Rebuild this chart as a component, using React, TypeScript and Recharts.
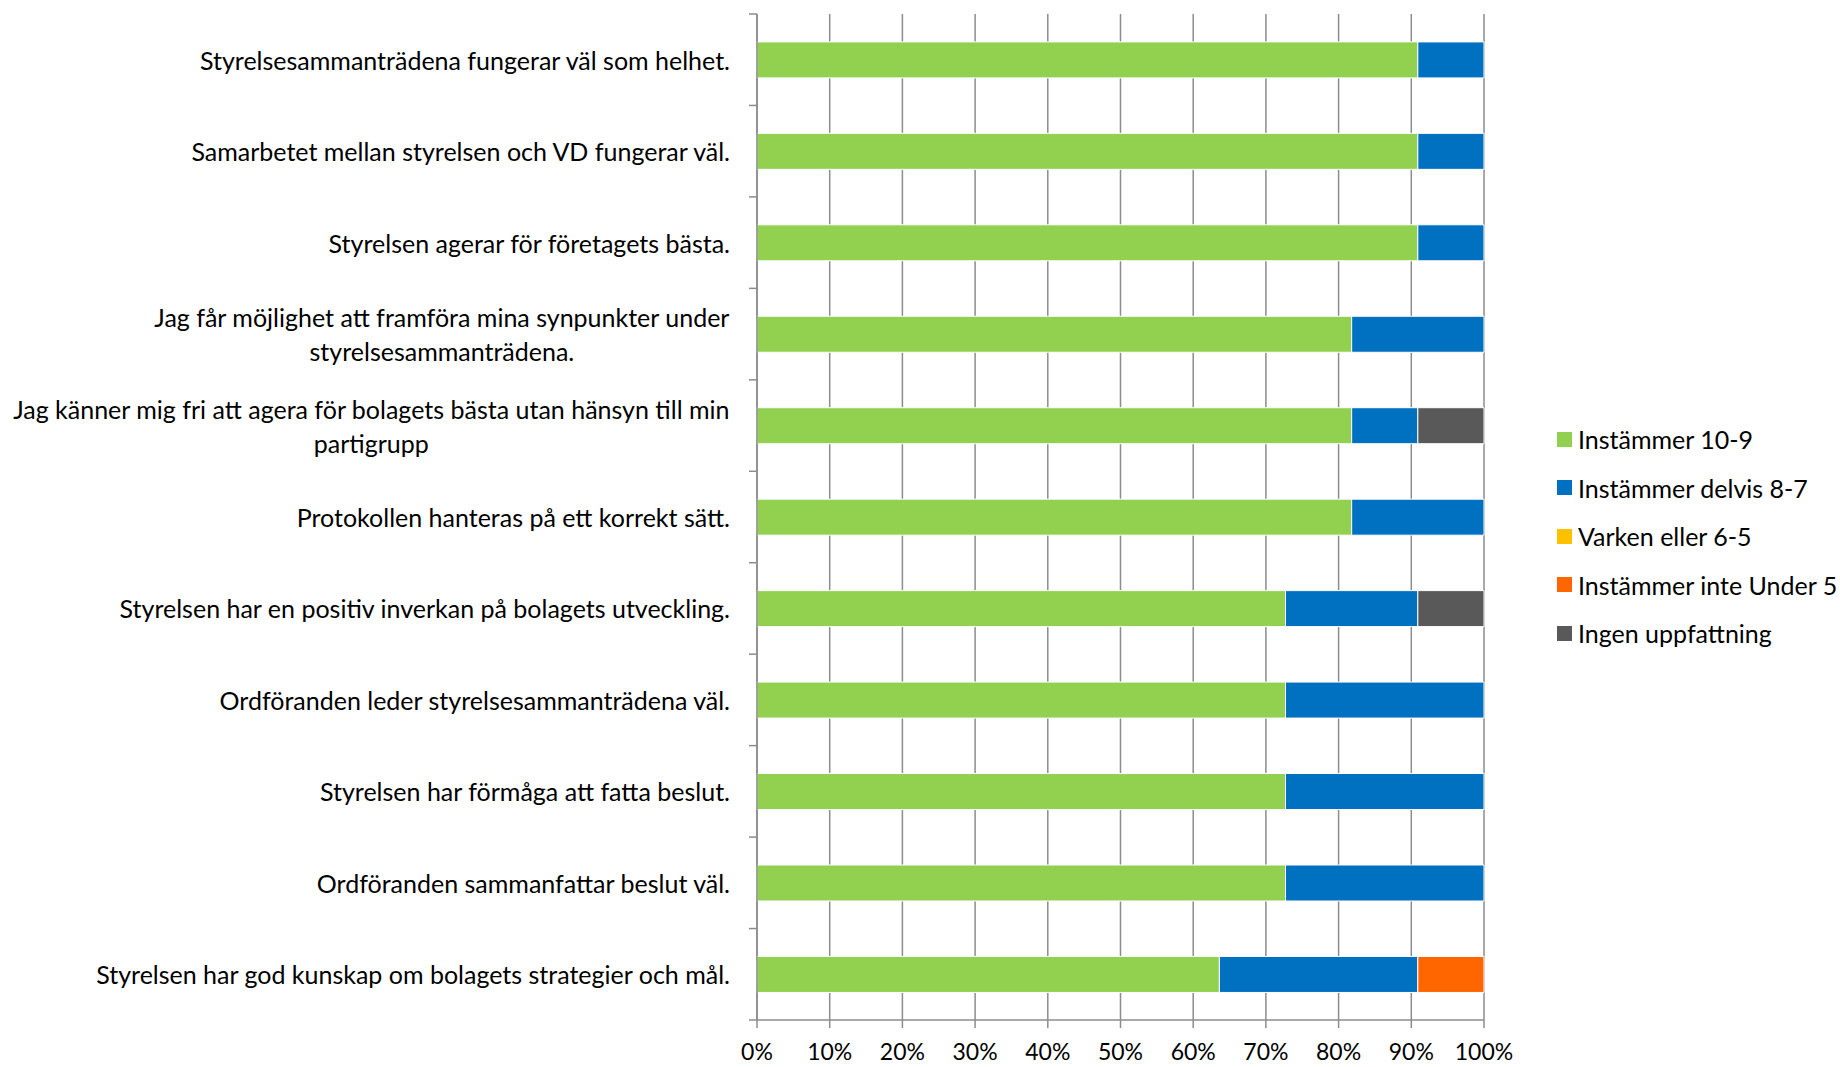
import { Bar, BarChart, CartesianGrid, XAxis, YAxis } from "recharts";

const categories = [
  "Styrelsesammanträdena fungerar väl som helhet.",
  "Samarbetet mellan styrelsen och VD fungerar väl.",
  "Styrelsen agerar för företagets bästa.",
  "Jag får möjlighet att framföra mina synpunkter under\nstyrelsesammanträdena.",
  "Jag känner mig fri att agera för bolagets bästa utan hänsyn till min\npartigrupp",
  "Protokollen hanteras på ett korrekt sätt.",
  "Styrelsen har en positiv inverkan på bolagets utveckling.",
  "Ordföranden leder styrelsesammanträdena väl.",
  "Styrelsen har förmåga att fatta beslut.",
  "Ordföranden sammanfattar beslut väl.",
  "Styrelsen har god kunskap om bolagets strategier och mål.",
];

const instammer = [90.9, 90.9, 90.9, 81.8, 81.8, 81.8, 72.7, 72.7, 72.7, 72.7, 63.6];
const delvis = [9.1, 9.1, 9.1, 18.2, 9.1, 18.2, 18.2, 27.3, 27.3, 27.3, 27.3];
const varken = [0, 0, 0, 0, 0, 0, 0, 0, 0, 0, 0];
const inte = [0, 0, 0, 0, 0, 0, 0, 0, 0, 0, 9.1];
const ingen = [0, 0, 0, 0, 9.1, 0, 9.1, 0, 0, 0, 0];

const xTicks = [0, 10, 20, 30, 40, 50, 60, 70, 80, 90, 100];

const series = [
  { key: "instammer", name: "Instämmer 10-9", color: "#92D050" },
  { key: "delvis", name: "Instämmer delvis 8-7", color: "#0070C0" },
  { key: "varken", name: "Varken eller 6-5", color: "#FFC000" },
  { key: "inte", name: "Instämmer inte Under 5", color: "#FF6600" },
  { key: "ingen", name: "Ingen uppfattning", color: "#595959" },
];

const data = categories.map((c, i) => ({
  cat: c,
  instammer: instammer[i],
  delvis: delvis[i],
  varken: varken[i],
  inte: inte[i],
  ingen: ingen[i],
}));

const W = 1840;
const H = 1067;
const LEFT = 757;
const RIGHT = 1484;
const TOP = 14;
const BOTTOM = 1020;
const BAND = (BOTTOM - TOP) / categories.length;
const FONT = "Lato";
const FS = 25;
const GRID = "#8c8c8c";

let ctx: CanvasRenderingContext2D | null = null;
function measure(s: string) {
  if (!ctx) ctx = document.createElement("canvas").getContext("2d");
  if (!ctx) return s.length * FS * 0.5;
  ctx.font = `${FS}px ${FONT}`;
  return ctx.measureText(s).width;
}

function CatTick({ x, y, payload, index }: any) {
  const lines = String(payload.value).split("\n");
  const right = x - 27;
  const blockW = Math.max(...lines.map(measure));
  const cx = right - blockW / 2;
  const lh = 34;
  const y0 = y - ((lines.length - 1) * lh) / 2;
  return (
    <g>
      <line x1={x - 8} x2={x} y1={y - BAND / 2} y2={y - BAND / 2} stroke={GRID} strokeWidth={1.5} />
      {index === categories.length - 1 && (
        <line x1={x - 8} x2={x} y1={y + BAND / 2} y2={y + BAND / 2} stroke={GRID} strokeWidth={1.5} />
      )}
      {lines.map((l, i) => (
        <text
          key={i}
          x={lines.length > 1 ? cx : right}
          y={y0 + i * lh}
          textAnchor={lines.length > 1 ? "middle" : "end"}
          dominantBaseline="central"
          fontFamily={FONT}
          fontSize={FS}
          fill="#000"
        >
          {l}
        </text>
      ))}
    </g>
  );
}

export default function App() {
  return (
    <div style={{ position: "absolute", left: 0, top: 0, width: W, height: H, background: "#fff" }}>
      <BarChart
        width={W}
        height={H}
        data={data}
        layout="vertical"
        barCategoryGap="30.5%"
        margin={{ top: TOP, right: W - RIGHT, bottom: 0, left: 0 }}
      >
        <CartesianGrid horizontal={false} stroke={GRID} strokeWidth={1.5} />
        <XAxis
          type="number"
          domain={[0, 100]}
          ticks={xTicks}
          interval={0}
          tickFormatter={(v) => `${v}%`}
          height={H - BOTTOM}
          stroke={GRID}
          strokeWidth={1.5}
          tickSize={8}
          tickMargin={16}
          tick={{ fontFamily: FONT, fontSize: 23, fill: "#000" }}
        />
        <YAxis
          type="category"
          dataKey="cat"
          width={LEFT}
          interval={0}
          tickLine={false}
          tickSize={0}
          tickMargin={0}
          stroke={GRID}
          strokeWidth={1.5}
          tick={<CatTick />}
        />
        {series.map((s) => (
          <Bar
            key={s.key}
            dataKey={s.key}
            name={s.name}
            stackId="a"
            fill={s.color}
            stroke="#ffffff"
            strokeWidth={1}
            isAnimationActive={false}
          />
        ))}
      </BarChart>
      <div style={{ position: "absolute", left: 1557, top: 415, fontFamily: FONT, fontSize: FS }}>
        {series.map((s) => (
          <div key={s.key} style={{ display: "flex", alignItems: "center", height: 48.5 }}>
            <span style={{ width: 15, height: 15, background: s.color, marginRight: 6, display: "inline-block" }} />
            <span>{s.name}</span>
          </div>
        ))}
      </div>
    </div>
  );
}
